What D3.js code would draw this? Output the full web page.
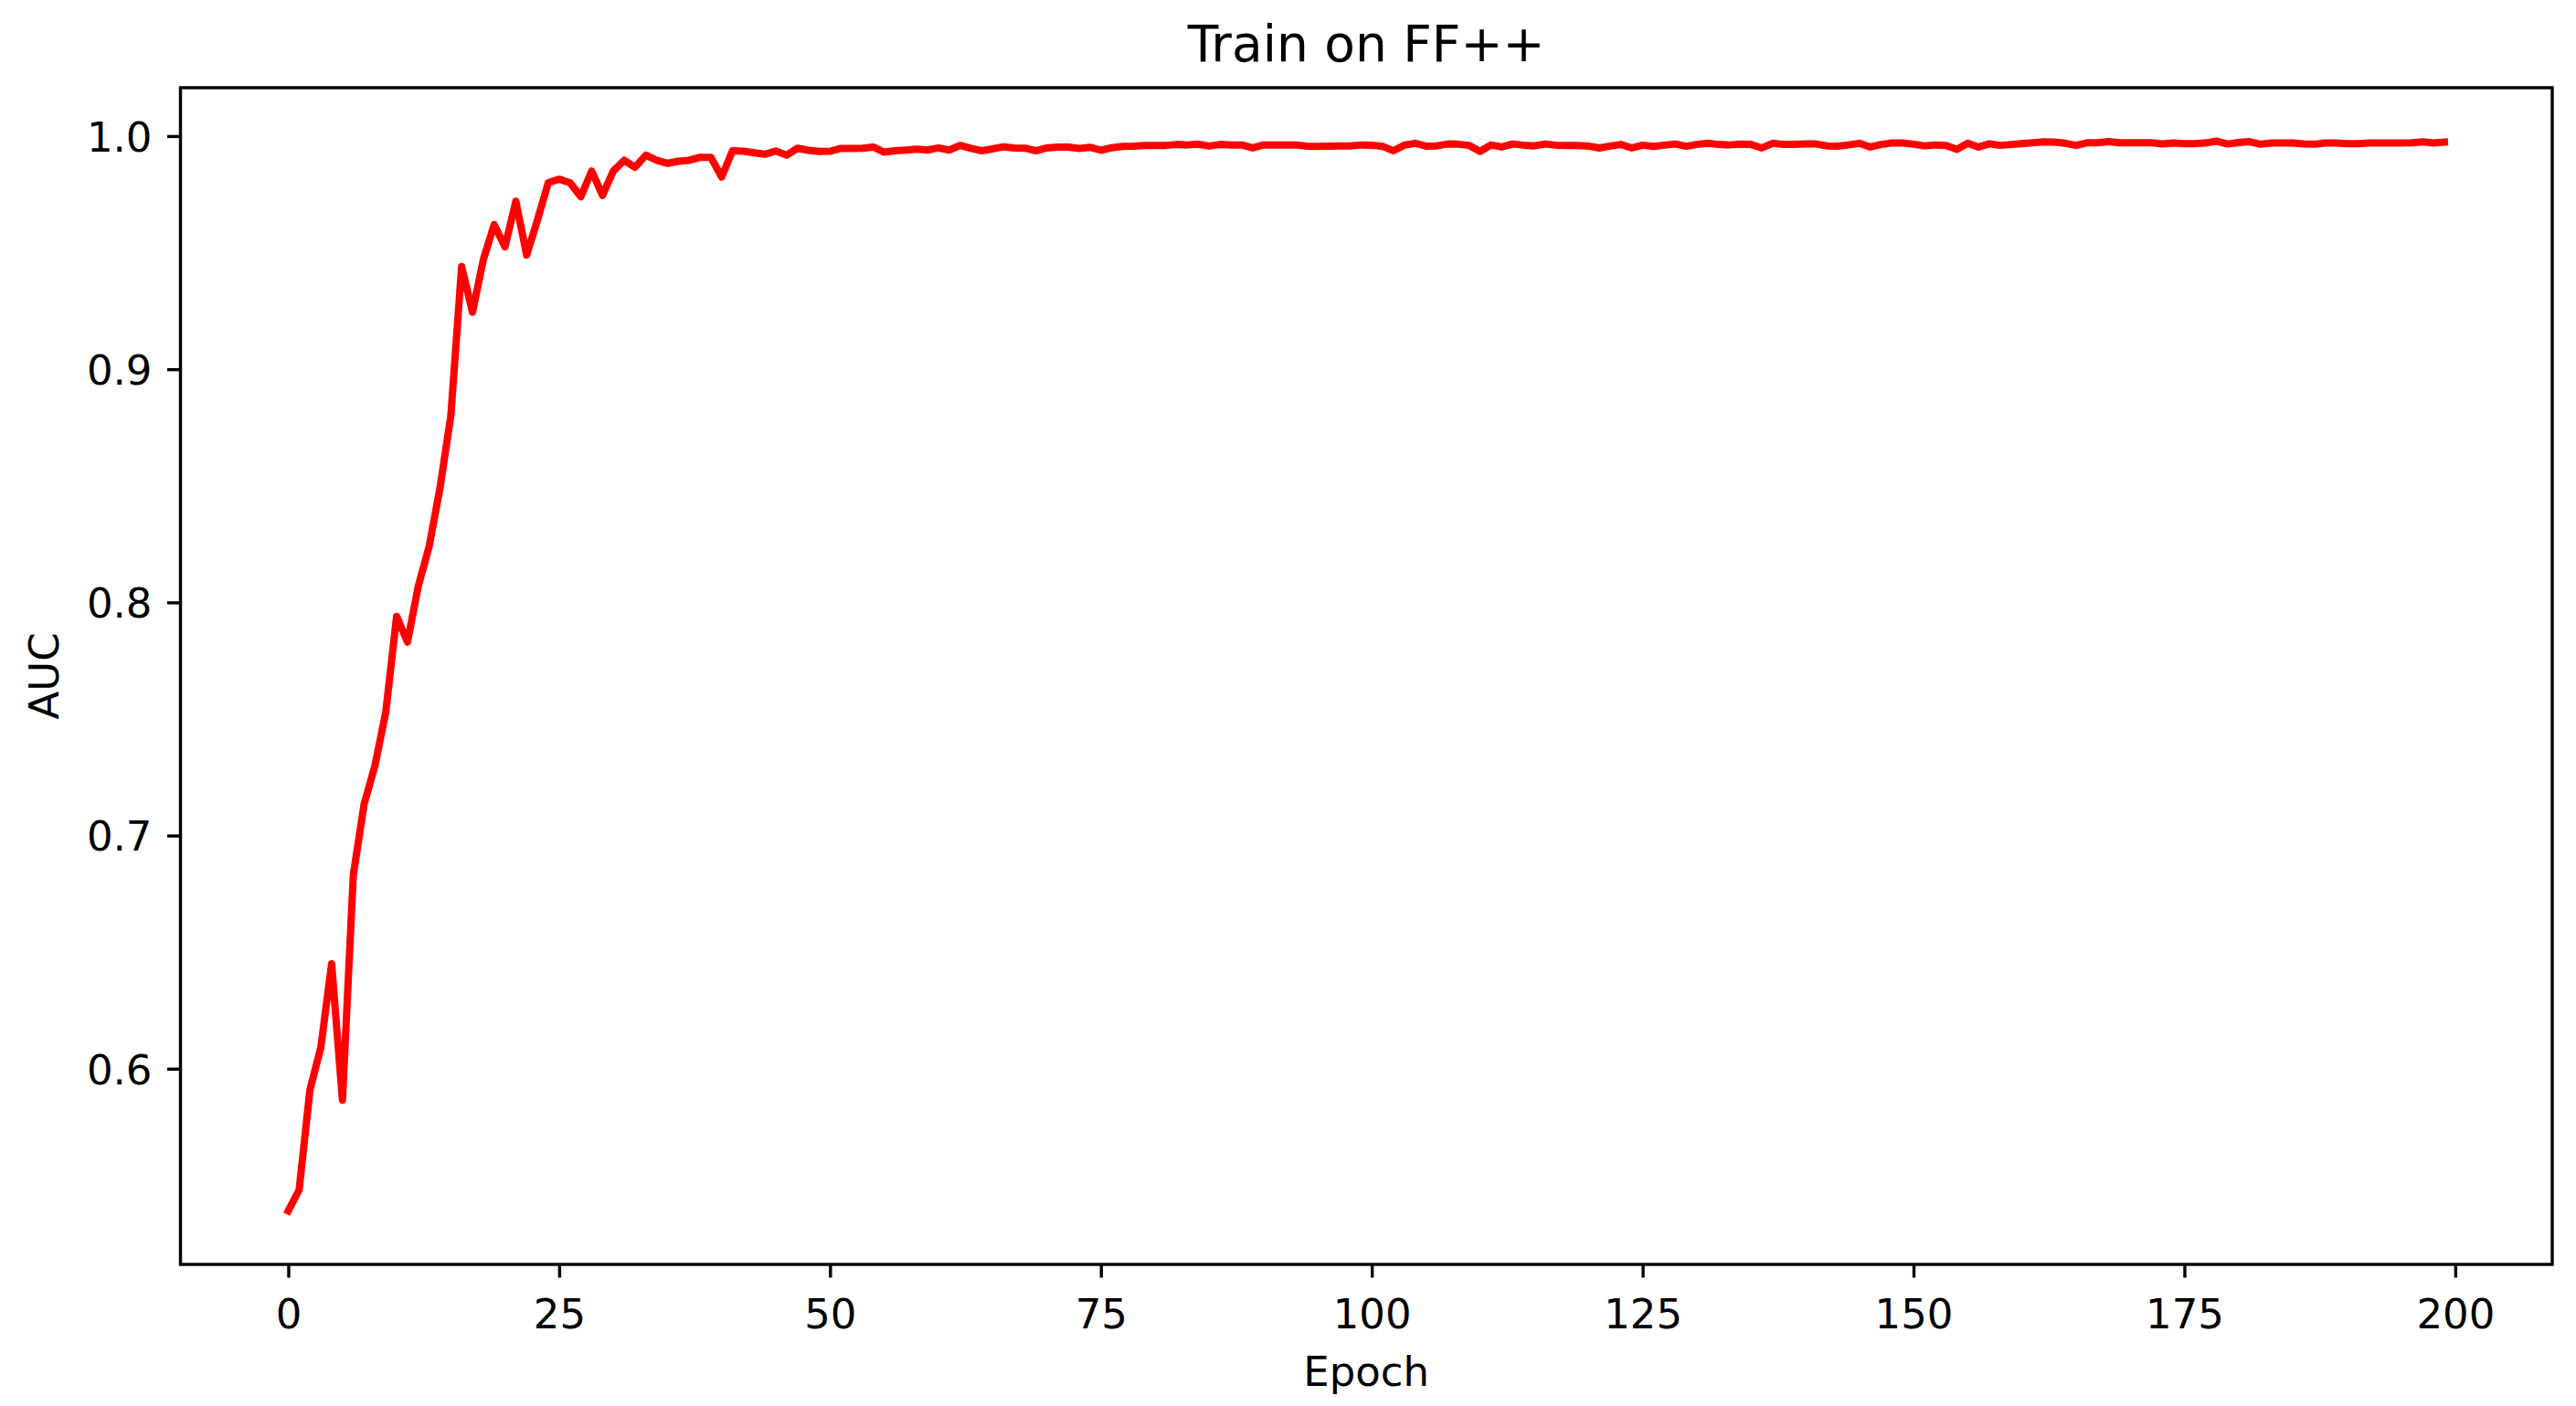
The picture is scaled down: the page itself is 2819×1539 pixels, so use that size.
<!DOCTYPE html>
<html>
<head>
<meta charset="utf-8">
<script src="https://cdn.jsdelivr.net/npm/d3@7"></script>
<style>
  html, body { margin: 0; padding: 0; background: #fff; }
  svg { display: block; }
  text { font-family: "DejaVu Sans", sans-serif; fill: #000; }
</style>
</head>
<body>
<div id="chart"></div>
<script>
// ---- data ----
const title = "Train on FF++";
const xLabel = "Epoch";
const yLabel = "AUC";
const xTicks = [0, 25, 50, 75, 100, 125, 150, 175, 200];
const yTicks = [0.6, 0.7, 0.8, 0.9, 1.0];
const auc = [
  0.539, 0.548, 0.591, 0.609, 0.645, 0.5865, 0.683, 0.7135, 0.730, 0.753,
  0.794, 0.783, 0.807, 0.824, 0.849, 0.880, 0.944, 0.9245, 0.947, 0.962,
  0.9525, 0.972, 0.949, 0.964, 0.980, 0.9815, 0.980, 0.974, 0.985, 0.9746,
  0.985, 0.9896, 0.9866, 0.9918, 0.9896, 0.9883, 0.9892, 0.9896, 0.9909, 0.9909,
  0.9824, 0.9937, 0.9935, 0.9928, 0.9922, 0.9936, 0.9918, 0.9948, 0.9939, 0.9934,
  0.9935, 0.9947, 0.9947, 0.9948, 0.9953, 0.9931, 0.9937, 0.9940, 0.9944, 0.9940,
  0.9949, 0.9940, 0.9960, 0.9947, 0.9937, 0.9945, 0.9954, 0.9949, 0.9948, 0.9937,
  0.9949, 0.9953, 0.9953, 0.9947, 0.9952, 0.9939, 0.9950, 0.9956, 0.9957, 0.9960,
  0.9960, 0.9960, 0.9964, 0.9962, 0.9965, 0.9957, 0.9964, 0.9962, 0.9962, 0.9949,
  0.9962, 0.9962, 0.9962, 0.9962, 0.9957, 0.9956, 0.9957, 0.9958, 0.9958, 0.9962,
  0.9961, 0.9956, 0.9937, 0.9961, 0.9969, 0.9957, 0.9958, 0.9966, 0.9965, 0.9960,
  0.9934, 0.9962, 0.9953, 0.9966, 0.9961, 0.9958, 0.9966, 0.9961, 0.9960, 0.9960,
  0.9957, 0.9949, 0.9957, 0.9964, 0.9949, 0.9961, 0.9956, 0.9961, 0.9966, 0.9956,
  0.9964, 0.9969, 0.9964, 0.9962, 0.9965, 0.9964, 0.9949, 0.9969, 0.9964, 0.9964,
  0.9966, 0.9966, 0.9958, 0.9957, 0.9962, 0.9969, 0.9953, 0.9964, 0.9970, 0.9970,
  0.9965, 0.9958, 0.9962, 0.9960, 0.9943, 0.9969, 0.9953, 0.9967, 0.9960, 0.9964,
  0.9967, 0.9971, 0.9975, 0.9974, 0.9969, 0.9960, 0.9971, 0.9971, 0.9976, 0.9971,
  0.9971, 0.9971, 0.9971, 0.9966, 0.9970, 0.9967, 0.9967, 0.9971, 0.9978, 0.9966,
  0.9972, 0.9976, 0.9965, 0.9970, 0.9970, 0.9970, 0.9966, 0.9965, 0.9970, 0.9970,
  0.9967, 0.9967, 0.9970, 0.9970, 0.9970, 0.9970, 0.9971, 0.9975, 0.9970, 0.9974
];
const epochs = auc.map((_, i) => i);

// ---- layout ----
const W = 2819, H = 1539;
const plot = { left: 197.5, right: 2793, top: 96, bottom: 1384 };
const fontSize = 45, titleSize = 55;
const spineW = 3.4, tickLen = 14.5;

const svg = d3.select("#chart").append("svg")
  .attr("width", W).attr("height", H)
  .attr("viewBox", `0 0 ${W} ${H}`);
svg.append("rect").attr("width", W).attr("height", H).attr("fill", "#fff");

// matplotlib-like 5% margins
const xExt = d3.extent(epochs), yExt = d3.extent(auc);
const xPad = (xExt[1] - xExt[0]) * 0.05, yPad = (yExt[1] - yExt[0]) * 0.05;
const x = d3.scaleLinear().domain([xExt[0] - xPad, xExt[1] + xPad]).range([plot.left, plot.right]);
const y = d3.scaleLinear().domain([yExt[0] - yPad, yExt[1] + yPad]).range([plot.bottom, plot.top]);

// line
const line = d3.line().x((d, i) => x(epochs[i])).y(d => y(d));
svg.append("path")
  .datum(auc)
  .attr("d", line)
  .attr("fill", "none")
  .attr("stroke", "#ff0000")
  .attr("stroke-width", 8)
  .attr("stroke-linejoin", "round")
  .attr("stroke-linecap", "square");

// axes
const xAxis = d3.axisBottom(x).tickValues(xTicks).tickFormat(d3.format("d"))
  .tickSize(tickLen).tickPadding(8);
const yAxis = d3.axisLeft(y).tickValues(yTicks).tickFormat(d3.format(".1f"))
  .tickSize(tickLen).tickPadding(15);

const gx = svg.append("g").attr("transform", `translate(0,${plot.bottom})`).call(xAxis);
const gy = svg.append("g").attr("transform", `translate(${plot.left},0)`).call(yAxis);
[gx, gy].forEach(g => {
  g.select(".domain").remove();
  g.selectAll(".tick line").attr("stroke", "#000").attr("stroke-width", spineW);
  g.selectAll(".tick text")
    .attr("font-family", "DejaVu Sans, sans-serif")
    .attr("font-size", fontSize)
    .attr("fill", "#000");
});
gx.selectAll(".tick text").attr("dy", null).attr("y", 70).attr("dominant-baseline", "alphabetic");
gy.selectAll(".tick text").attr("dy", null).attr("x", -31).attr("y", 16.4).attr("dominant-baseline", "alphabetic");

// spines (box)
svg.append("rect")
  .attr("x", plot.left).attr("y", plot.top)
  .attr("width", plot.right - plot.left).attr("height", plot.bottom - plot.top)
  .attr("fill", "none").attr("stroke", "#000").attr("stroke-width", spineW)
  .attr("stroke-linejoin", "miter");

// title & labels
const cx = (plot.left + plot.right) / 2, cy = (plot.top + plot.bottom) / 2;
svg.append("text").attr("x", cx).attr("y", 66.7)
  .attr("text-anchor", "middle").attr("font-size", titleSize).text(title);
svg.append("text").attr("x", cx).attr("y", 1516.7)
  .attr("text-anchor", "middle").attr("font-size", fontSize).text(xLabel);
svg.append("text")
  .attr("transform", `translate(64,${cy}) rotate(-90)`)
  .attr("text-anchor", "middle").attr("font-size", fontSize).text(yLabel);
</script>
</body>
</html>
